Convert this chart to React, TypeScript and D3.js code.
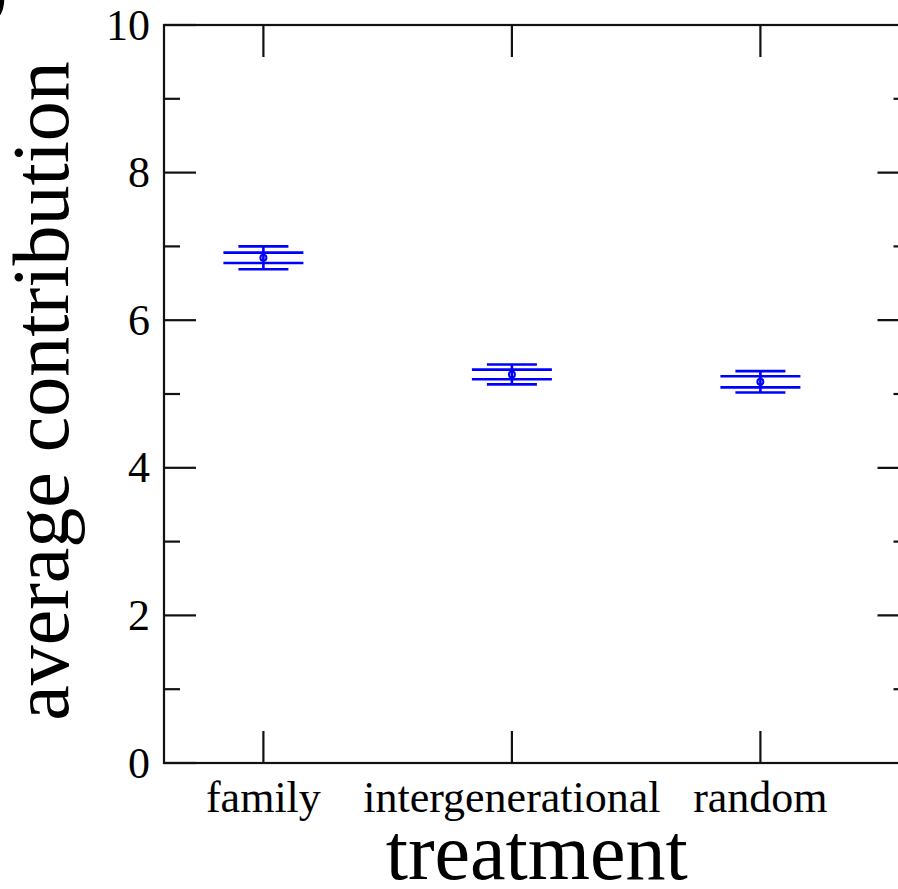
import React, { useEffect, useRef } from 'react'
import * as d3 from 'd3'

// values
const categories = ['family', 'intergenerational', 'random']
const means = [6.845, 5.265, 5.165]
const outerErr = [0.155, 0.135, 0.145] // narrow caps, longer bar
const innerErr = [0.07, 0.065, 0.075] // wide caps, shorter bar
const yMajorTicks = [0, 2, 4, 6, 8, 10]
const yMinorTicks = [1, 3, 5, 7, 9]

const W = 898
const H = 889

export default function App() {
  const ref = useRef<SVGSVGElement>(null)

  useEffect(() => {
    const svg = d3.select(ref.current)
    svg.selectAll('*').remove()

    const left = 164, right = 909.5, top = 25, bottom = 763
    const x = d3.scaleLinear().domain([0.6, 3.6]).range([left, right])
    const y = d3.scaleLinear().domain([0, 10]).range([bottom, top])
    const font = '"Liberation Serif", "Times New Roman", serif'

    const data = categories.map((c, i) => ({
      name: c, pos: i + 1, mean: means[i], outer: outerErr[i], inner: innerErr[i]
    }))

    // frame
    svg.append('rect')
      .attr('x', left).attr('y', top)
      .attr('width', right - left).attr('height', bottom - top)
      .attr('fill', 'none').attr('stroke', '#111').attr('stroke-width', 2.2)

    const ticks = svg.append('g').attr('stroke', '#111').attr('stroke-width', 2.2)
    // y ticks, inward on both sides
    yMajorTicks.forEach(t => {
      ticks.append('line').attr('x1', left).attr('x2', left + 32).attr('y1', y(t)).attr('y2', y(t))
      ticks.append('line').attr('x1', right).attr('x2', right - 32).attr('y1', y(t)).attr('y2', y(t))
    })
    yMinorTicks.forEach(t => {
      ticks.append('line').attr('x1', left).attr('x2', left + 16).attr('y1', y(t)).attr('y2', y(t))
      ticks.append('line').attr('x1', right).attr('x2', right - 16).attr('y1', y(t)).attr('y2', y(t))
    })
    // x ticks, top and bottom
    data.forEach(d => {
      ticks.append('line').attr('x1', x(d.pos)).attr('x2', x(d.pos)).attr('y1', bottom).attr('y2', bottom - 32)
      ticks.append('line').attr('x1', x(d.pos)).attr('x2', x(d.pos)).attr('y1', top).attr('y2', top + 32)
    })

    // tick labels
    svg.append('g').selectAll('text').data(yMajorTicks).enter().append('text')
      .attr('x', left - 14).attr('y', d => y(d))
      .attr('dy', '0.33em')
      .attr('text-anchor', 'end')
      .style('font-family', font).style('font-size', '44px')
      .text(d => d)

    svg.append('g').selectAll('text').data(data).enter().append('text')
      .attr('x', d => x(d.pos)).attr('y', 812)
      .attr('text-anchor', 'middle')
      .style('font-family', font).style('font-size', '44px')
      .text(d => d.name)

    // axis titles
    svg.append('text')
      .attr('x', (left + right) / 2).attr('y', 879)
      .attr('text-anchor', 'middle')
      .style('font-family', font).style('font-size', '80px')
      .text('treatment')

    svg.append('text')
      .attr('transform', 'translate(68,' + 391 + ') rotate(-90)')
      .attr('text-anchor', 'middle')
      .style('font-family', font).style('font-size', '80px')
      .text('average contribution')

    // error bars
    const g = svg.append('g').attr('stroke', '#0000ff').attr('stroke-width', 2.6).attr('fill', 'none')
    data.forEach(d => {
      const cx = x(d.pos)
      g.append('line').attr('x1', cx).attr('x2', cx).attr('y1', y(d.mean - d.outer)).attr('y2', y(d.mean + d.outer))
      ;[d.mean - d.outer, d.mean + d.outer].forEach(v => {
        g.append('line').attr('x1', cx - 25).attr('x2', cx + 25).attr('y1', y(v)).attr('y2', y(v))
      })
      ;[d.mean - d.inner, d.mean + d.inner].forEach(v => {
        g.append('line').attr('x1', cx - 40).attr('x2', cx + 40).attr('y1', y(v)).attr('y2', y(v))
      })
      g.append('circle').attr('cx', cx).attr('cy', y(d.mean)).attr('r', 3).attr('stroke-width', 2)
    })

    // fragment of a panel letter cut off at the corner
    svg.append('text')
      .attr('x', -13).attr('y', 12)
      .style('font-family', font).style('font-size', '60px').style('font-weight', 'bold')
      .text(')')
  }, [])

  return (
    <svg ref={ref} width={W} height={H}
      style={{ position: 'absolute', left: 0, top: 0, background: '#fff' }} />
  )
}
